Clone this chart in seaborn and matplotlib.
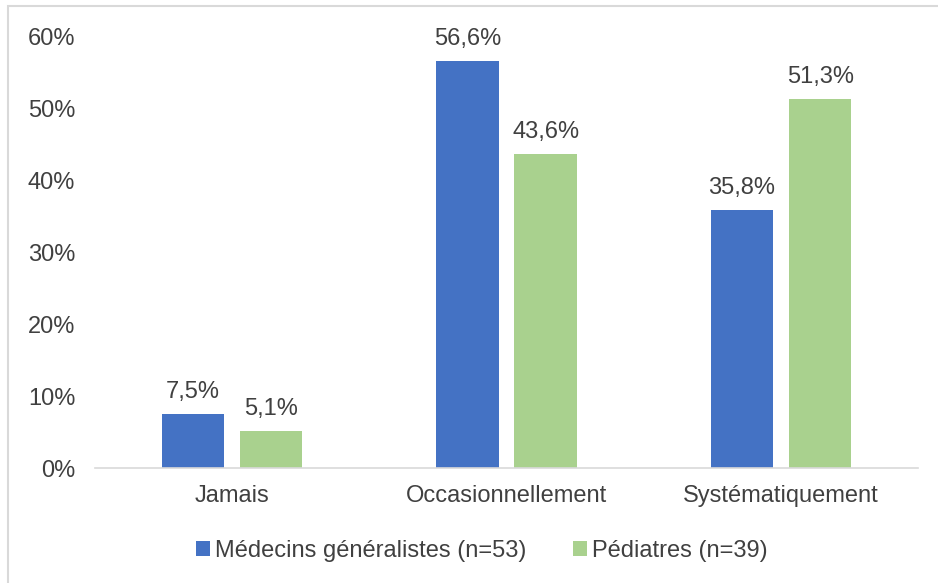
import pandas as pd
import seaborn as sns
import matplotlib.pyplot as plt
from matplotlib.patches import Rectangle
from matplotlib.ticker import FuncFormatter

categories = ["Jamais", "Occasionnellement", "Systématiquement"]
series = ["Médecins généralistes (n=53)", "Pédiatres (n=39)"]
generalistes = [7.5, 56.6, 35.8]
pediatres = [5.1, 43.6, 51.3]

df = pd.DataFrame({
    "cat": categories * 2,
    "groupe": [series[0]] * 3 + [series[1]] * 3,
    "val": generalistes + pediatres,
})

sns.set_style("white")
plt.rcParams["font.family"] = ["Liberation Sans", "DejaVu Sans"]
txt = "#404040"
fs = 17

fig = plt.figure(figsize=(9.38, 5.83), dpi=100)
ax = fig.add_axes([0.101, 0.197, 0.878, 0.741])
sns.barplot(data=df, x="cat", y="val", hue="groupe", order=categories,
            hue_order=series, palette=["#4472C4", "#A9D18E"],
            width=0.57, gap=0.2, ax=ax, saturation=1, linewidth=0)

for c in ax.containers:
    ax.bar_label(c, labels=[f"{v:.1f}%".replace(".", ",") for v in c.datavalues],
                 padding=8, fontsize=fs, color=txt)

ax.set_xlim(-0.5, 2.5)
ax.set_ylim(0, 60)
ax.set_yticks(range(0, 61, 10))
ax.yaxis.set_major_formatter(FuncFormatter(lambda v, p: f"{int(v)}%"))
ax.tick_params(axis="both", labelsize=fs, labelcolor=txt, length=0)
ax.tick_params(axis="x", pad=12)
ax.tick_params(axis="y", pad=14)
ax.set_xlabel("")
ax.set_ylabel("")
for s in ["top", "right", "left"]:
    ax.spines[s].set_visible(False)
ax.spines["bottom"].set_color("#D9D9D9")
ax.spines["bottom"].set_linewidth(1.2)

leg = ax.legend(loc="upper center", bbox_to_anchor=(0.47, -0.117), ncol=2,
                frameon=False, fontsize=fs, handlelength=0.6, handleheight=0.6,
                handletextpad=0.2, columnspacing=2.0)
for t in leg.get_texts():
    t.set_color(txt)

fig.patches.append(Rectangle((0.009, -0.01), 1.0, 1.0, transform=fig.transFigure,
                             fill=False, edgecolor="#D9D9D9", linewidth=1.5))

fig.savefig("out.png", dpi=100)
